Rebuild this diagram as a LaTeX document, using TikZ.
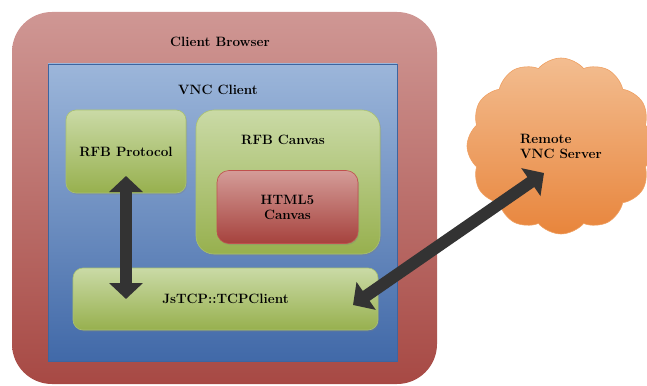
\documentclass[tikz,border=0pt]{standalone}
\usetikzlibrary{shapes.symbols,shadows,arrows.meta}

\definecolor{browsertop}{HTML}{CF9794}
\definecolor{browserbot}{HTML}{A74944}
\definecolor{vnctop}{HTML}{9CB6DA}
\definecolor{vncbot}{HTML}{4169A8}
\definecolor{vncedge}{HTML}{3D65A0}
\definecolor{greentop}{HTML}{CADAA6}
\definecolor{greenbot}{HTML}{97B04E}
\definecolor{greenedge}{HTML}{A9C170}
\definecolor{redtop}{HTML}{D49C98}
\definecolor{redbot}{HTML}{A6423D}
\definecolor{rededge}{HTML}{C0504D}
\definecolor{cloudtop}{HTML}{F3BD90}
\definecolor{cloudbot}{HTML}{E8853C}
\definecolor{cloudedge}{HTML}{EFA062}

\begin{document}
\begin{tikzpicture}
    [
      x = 1pt, y = -1pt,
      every node/.style = {font = \fontsize{13.5}{15}\selectfont\bfseries, align = center, inner sep = 0pt},
      browserbox/.style = {rounded corners = 40pt, top color = browsertop, bottom color = browserbot},
      vncbox/.style = {top color = vnctop, bottom color = vncbot, draw = vncedge, line width = 0.6pt},
      greenbox/.style = {rounded corners = 10pt, top color = greentop, bottom color = greenbot,
          draw = greenedge, line width = 0.6pt,
          drop shadow = {opacity = 0.3, shadow xshift = 1pt, shadow yshift = -1.5pt}},
      redbox/.style = {rounded corners = 12pt, top color = redtop, bottom color = redbot,
          draw = rededge, line width = 0.6pt,
          drop shadow = {opacity = 0.3, shadow xshift = 1pt, shadow yshift = -1.5pt}},
      cloudnode/.style = {cloud, cloud puffs = 12, cloud puff arc = 100, aspect = 1.05,
          minimum width = 188pt, minimum height = 176pt, align = left,
          top color = cloudtop, bottom color = cloudbot, draw = cloudedge, line width = 0.6pt},
      fatarrow/.style = {line width = 12pt, draw = black!80,
          >={Triangle[width = 33pt 0 0, length = 16pt 0 0]}, <->},
    ]

    \useasboundingbox (0,0) rectangle (647,385);

    \node[browserbox, minimum width = 425pt, minimum height = 372pt] (browser) at (224.5,198) {};
    \node (browsertitle) at (220,42) {Client Browser};

    \node[vncbox, minimum width = 349pt, minimum height = 297pt] (vnc) at (222.5,212.5) {};
    \node (vnctitle) at (218,90) {VNC Client};

    \node[greenbox, minimum width = 120pt, minimum height = 83pt] (proto) at (126,151.5) {RFB Protocol};

    \node[greenbox, rounded corners = 18pt, minimum width = 184pt, minimum height = 144pt] (canvas) at (288,182) {};
    \node (canvastitle) at (283,140) {RFB Canvas};
    \node[redbox, minimum width = 141pt, minimum height = 73pt] (html) at (287.5,207) {HTML5\\Canvas};

    \node[greenbox, minimum width = 305pt, minimum height = 62pt] (tcp) at (225.5,299) {JsTCP::TCPClient};

    \node[cloudnode] (server) at (561,146) {Remote\\VNC Server};

    \coordinate (protoend) at (126,176);
    \coordinate (tcpleft) at (126,299);
    \coordinate (tcpright) at (353,305);
    \coordinate (serverend) at (544,173);

    \draw[fatarrow] (protoend) -- (tcpleft);
    \draw[fatarrow] (tcpright) -- (serverend);

  \end{tikzpicture}
\end{document}
